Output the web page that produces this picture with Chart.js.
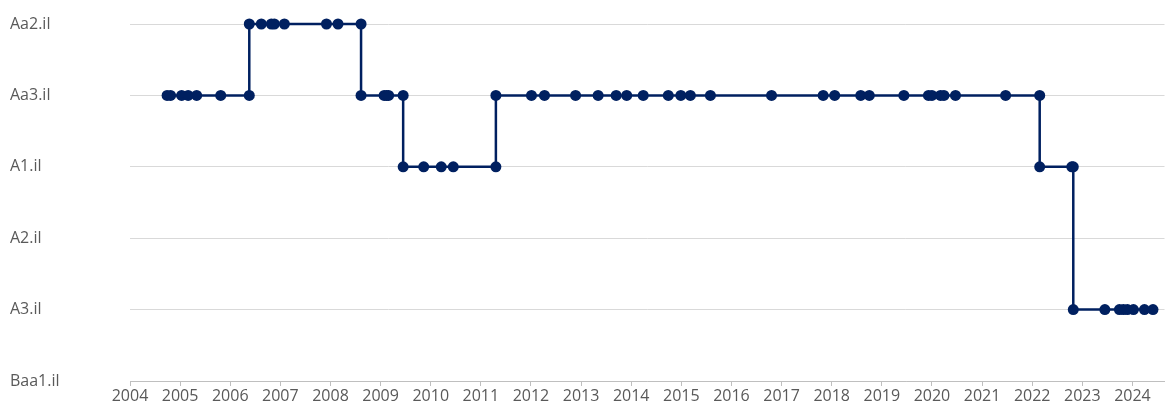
<!DOCTYPE html>
<html>
<head>
<meta charset="utf-8">
<script src="https://cdn.jsdelivr.net/npm/chart.js@4/dist/chart.umd.min.js"></script>
<style>
  html, body { margin: 0; padding: 0; background: #fff; }
  #wrap { width: 1170px; height: 412px; position: relative; }
</style>
</head>
<body>
<div id="wrap"><canvas id="chart-rating"></canvas></div>
<script>
// rating scale, bottom to top
const ratingLabels = ['Baa1.il', 'A3.il', 'A2.il', 'A1.il', 'Aa3.il', 'Aa2.il'];
const yearTicks = [2004, 2005, 2006, 2007, 2008, 2009, 2010, 2011, 2012, 2013, 2014,
  2015, 2016, 2017, 2018, 2019, 2020, 2021, 2022, 2023, 2024];

// rating actions (decimal year) and the rating given at each
const actionDates = [
  2004.74, 2004.81, 2005.03, 2005.16, 2005.33, 2005.81, 2006.38,
  2006.38, 2006.62, 2006.82, 2006.88, 2007.08, 2007.92, 2008.15, 2008.61,
  2008.61, 2009.07, 2009.12, 2009.16, 2009.45,
  2009.45, 2009.86, 2010.21, 2010.45, 2011.30,
  2011.30, 2012.01, 2012.27, 2012.89, 2013.34, 2013.70, 2013.91, 2014.24, 2014.74,
  2014.99, 2015.18, 2015.58, 2016.80, 2017.83, 2018.06, 2018.58, 2018.75, 2019.44,
  2019.93, 2020.00, 2020.17, 2020.24, 2020.47, 2021.47, 2022.15,
  2022.15, 2022.79, 2022.82,
  2022.82, 2023.45, 2023.74, 2023.82, 2023.90, 2024.02, 2024.24, 2024.41
];
const actionRatings = [
  'Aa3.il', 'Aa3.il', 'Aa3.il', 'Aa3.il', 'Aa3.il', 'Aa3.il', 'Aa3.il',
  'Aa2.il', 'Aa2.il', 'Aa2.il', 'Aa2.il', 'Aa2.il', 'Aa2.il', 'Aa2.il', 'Aa2.il',
  'Aa3.il', 'Aa3.il', 'Aa3.il', 'Aa3.il', 'Aa3.il',
  'A1.il', 'A1.il', 'A1.il', 'A1.il', 'A1.il',
  'Aa3.il', 'Aa3.il', 'Aa3.il', 'Aa3.il', 'Aa3.il', 'Aa3.il', 'Aa3.il', 'Aa3.il', 'Aa3.il',
  'Aa3.il', 'Aa3.il', 'Aa3.il', 'Aa3.il', 'Aa3.il', 'Aa3.il', 'Aa3.il', 'Aa3.il', 'Aa3.il',
  'Aa3.il', 'Aa3.il', 'Aa3.il', 'Aa3.il', 'Aa3.il', 'Aa3.il', 'Aa3.il',
  'A1.il', 'A1.il', 'A1.il',
  'A3.il', 'A3.il', 'A3.il', 'A3.il', 'A3.il', 'A3.il', 'A3.il', 'A3.il'
];

const points = actionDates.map((d, i) => ({ x: d, y: ratingLabels.indexOf(actionRatings[i]) }));
const navy = '#002060';
const labelFont = { family: "'Open Sans', 'Noto Sans', sans-serif", size: 16 };

new Chart(document.getElementById('chart-rating'), {
  type: 'scatter',
  data: {
    datasets: [{
      data: points,
      showLine: true,
      borderColor: navy,
      borderWidth: 2.5,
      backgroundColor: navy,
      pointRadius: 5.5,
      pointBorderWidth: 0,
      clip: false
    }]
  },
  options: {
    responsive: true,
    maintainAspectRatio: false,
    animation: false,
    layout: { padding: { left: 10, right: 2, top: 24, bottom: 0 } },
    plugins: { legend: { display: false }, tooltip: { enabled: false } },
    scales: {
      x: {
        type: 'linear',
        min: 2004,
        max: 2024.64,
        afterBuildTicks: s => { s.ticks = yearTicks.map(v => ({ value: v })); },
        afterFit: s => { s.height = 31; },
        border: { color: '#bfbfbf', width: 1 },
        grid: { drawOnChartArea: false, drawTicks: true, tickLength: 5, color: '#bfbfbf' },
        ticks: { color: '#595959', font: labelFont, padding: 1, maxRotation: 0, autoSkip: false, callback: v => String(v) }
      },
      y: {
        min: 0,
        max: 5,
        afterBuildTicks: s => { s.ticks = ratingLabels.map((_, i) => ({ value: i })); },
        afterFit: s => { s.width = 120; },
        border: { display: false },
        grid: { color: '#d9d9d9', lineWidth: 1, drawTicks: false },
        ticks: { color: '#595959', font: labelFont, crossAlign: 'far', padding: 0, callback: v => ratingLabels[v] }
      }
    }
  }
});
</script>
</body>
</html>
